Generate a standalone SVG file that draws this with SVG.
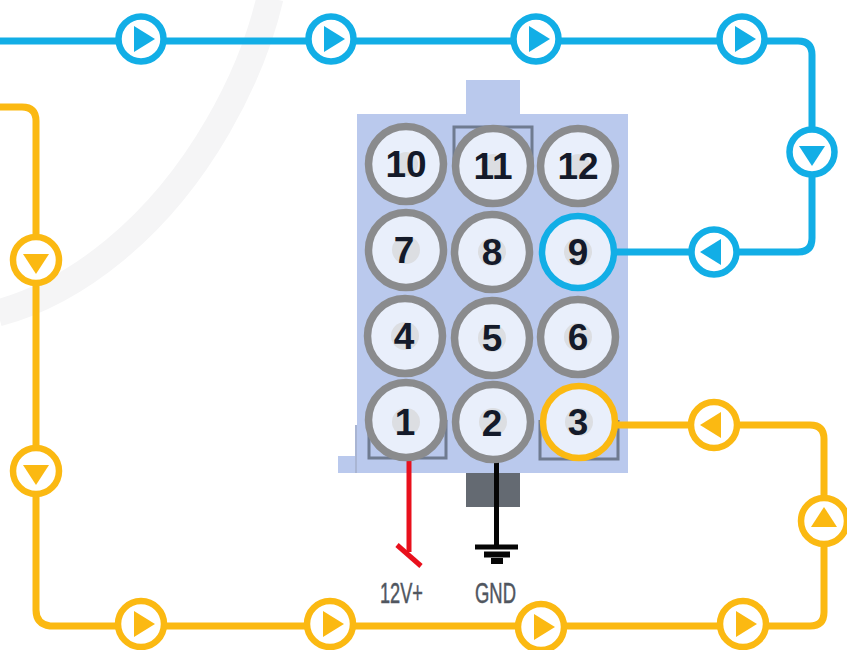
<svg xmlns="http://www.w3.org/2000/svg" width="847" height="650" viewBox="0 0 847 650">
  <style>
    .wire{fill:none;stroke-width:7;stroke-linejoin:round}
    .blue{stroke:#12aee6}
    .yellow{stroke:#fbb912}
    .mk{fill:#fff;stroke-width:6.5}
    .tb{fill:#12aee6}
    .ty{fill:#fbb912}
    .pin{fill:#e9effb;stroke:#8a8b8d;stroke-width:7.5}
    .pin.b{stroke:#12aee6;stroke-width:6.5}
    .pin.y{stroke:#fbb912;stroke-width:6.5}
    .dot{fill:#dcdee2}
    .num{font-family:"Liberation Sans",Arial,sans-serif;font-weight:700;font-size:37px;fill:#141a2a;text-anchor:middle}
    .lbl{font-family:"Liberation Sans",Arial,sans-serif;font-size:29px;fill:#50565f;stroke:#50565f;stroke-width:.5}
    .clip{fill:none;stroke:#6f7b90;stroke-width:3}
  </style>
  <defs>
    <g id="mk-r"><polygon points="-7,-13 14,0 -7,13"/></g>
    <g id="mk-d"><polygon points="-13,-6 13,-6 0,14"/></g>
    <g id="mk-l"><polygon points="7,-13 -14,0 7,13"/></g>
    <g id="mk-u"><polygon points="-13,6 13,6 0,-14"/></g>
  </defs>
  <rect width="847" height="650" fill="#fff"/>
  <path d="M270,-2 C252,75 200,180 115,250 C75,283 35,303 -2,313" fill="none" stroke="#f5f5f6" stroke-width="27"/>

  <g id="connector-body">
    <rect x="466" y="80" width="54" height="34" fill="#bac9ed"/>
    <rect x="357" y="114" width="271" height="359" fill="#bac9ed"/>
    <rect x="338" y="456" width="17" height="17" fill="#bac9ed"/>
    <rect x="355" y="425" width="2" height="48" fill="#a9b5d3"/>
    <rect x="466" y="473" width="54" height="34" fill="#646a72"/>
    <path class="clip" d="M454,166 V127 H532 V166"/>
    <path class="clip" d="M369,420 V458 H446 V420"/>
    <path class="clip" d="M540,420 V459 H618 V420"/>
  </g>

  <g id="connectors">
    <path class="wire blue" d="M0,41 H798 Q812,41 812,55 V238 Q812,252 798,252 H600"/>
    <path class="wire yellow" d="M0,107 H22 Q36,107 36,121 V610 Q36,624 50,626 H810 Q824,626 824,612 V439 Q824,425 810,425 H600"/>
    <path d="M409,458 V552" fill="none" stroke="#e8101c" stroke-width="5"/>
    <path d="M397,545 L421,566" fill="none" stroke="#e8101c" stroke-width="5"/>
    <path d="M496.500,460 V546" fill="none" stroke="#050505" stroke-width="5"/>
    <path d="M475,547 H518" fill="none" stroke="#050505" stroke-width="5"/>
    <path d="M484,554.500 H510" fill="none" stroke="#050505" stroke-width="6"/>
    <path d="M491,561 H503" fill="none" stroke="#050505" stroke-width="6"/>
  </g>

  <g id="pin-10"><circle class="pin" cx="406" cy="164" r="37.500"/><circle class="dot" cx="406" cy="164" r="12"/><text class="num" x="406" y="177">10</text></g>
  <g id="pin-11"><circle class="pin" cx="493" cy="166" r="37.500"/><circle class="dot" cx="493" cy="166" r="12"/><text class="num" x="493" y="179">11</text></g>
  <g id="pin-12"><circle class="pin" cx="578" cy="166" r="37.500"/><circle class="dot" cx="578" cy="166" r="12"/><text class="num" x="578" y="179">12</text></g>
  <g id="pin-7"><circle class="pin" cx="406" cy="250" r="37.500"/><circle class="dot" cx="406" cy="250" r="14"/><text class="num" x="404" y="263">7</text></g>
  <g id="pin-8"><circle class="pin" cx="492" cy="252" r="37.500"/><circle class="dot" cx="492" cy="252" r="14"/><text class="num" x="492" y="265">8</text></g>
  <g id="pin-9"><circle class="pin b" cx="578" cy="252" r="36"/><circle class="dot" cx="578" cy="252" r="14"/><text class="num" x="578" y="265">9</text></g>
  <g id="pin-4"><circle class="pin" cx="405" cy="336" r="37.500"/><circle class="dot" cx="405" cy="336" r="14"/><text class="num" x="404" y="349">4</text></g>
  <g id="pin-5"><circle class="pin" cx="492" cy="338" r="37.500"/><circle class="dot" cx="492" cy="338" r="14"/><text class="num" x="492" y="351">5</text></g>
  <g id="pin-6"><circle class="pin" cx="578" cy="337" r="37.500"/><circle class="dot" cx="578" cy="337" r="14"/><text class="num" x="578" y="350">6</text></g>
  <g id="pin-1"><circle class="pin" cx="406" cy="420" r="37.500"/><circle class="dot" cx="406" cy="422" r="14"/><text class="num" x="405" y="435">1</text></g>
  <g id="pin-2"><circle class="pin" cx="493" cy="422" r="37.500"/><circle class="dot" cx="493" cy="422" r="14"/><text class="num" x="492" y="436">2</text></g>
  <g id="pin-3"><circle class="pin y" cx="579" cy="422" r="36"/><circle class="dot" cx="579" cy="422" r="14"/><text class="num" x="578" y="435">3</text></g>

  <g id="flow-b1"><circle class="mk blue" cx="141" cy="39" r="22.500"/><use class="tb" href="#mk-r" x="141" y="39"/></g>
  <g id="flow-b2"><circle class="mk blue" cx="331" cy="39" r="22.500"/><use class="tb" href="#mk-r" x="331" y="39"/></g>
  <g id="flow-b3"><circle class="mk blue" cx="536" cy="39" r="22.500"/><use class="tb" href="#mk-r" x="536" y="39"/></g>
  <g id="flow-b4"><circle class="mk blue" cx="742" cy="39" r="22.500"/><use class="tb" href="#mk-r" x="742" y="39"/></g>
  <g id="flow-b5"><circle class="mk blue" cx="812" cy="152" r="22.500"/><use class="tb" href="#mk-d" x="812" y="152"/></g>
  <g id="flow-b6"><circle class="mk blue" cx="714" cy="252" r="22.500"/><use class="tb" href="#mk-l" x="714" y="252"/></g>

  <g id="flow-y1"><circle class="mk yellow" cx="36" cy="260" r="23"/><use class="ty" href="#mk-d" x="36" y="260"/></g>
  <g id="flow-y2"><circle class="mk yellow" cx="36" cy="471" r="23"/><use class="ty" href="#mk-d" x="36" y="471"/></g>
  <g id="flow-y3"><circle class="mk yellow" cx="141" cy="624" r="23"/><use class="ty" href="#mk-r" x="141" y="624"/></g>
  <g id="flow-y4"><circle class="mk yellow" cx="330" cy="624" r="23"/><use class="ty" href="#mk-r" x="330" y="624"/></g>
  <g id="flow-y5"><circle class="mk yellow" cx="541" cy="627" r="23"/><use class="ty" href="#mk-r" x="541" y="627"/></g>
  <g id="flow-y6"><circle class="mk yellow" cx="743" cy="624" r="23"/><use class="ty" href="#mk-r" x="743" y="624"/></g>
  <g id="flow-y7"><circle class="mk yellow" cx="824" cy="521" r="23"/><use class="ty" href="#mk-u" x="824" y="521"/></g>
  <g id="flow-y8"><circle class="mk yellow" cx="714" cy="425" r="23"/><use class="ty" href="#mk-l" x="714" y="425"/></g>

  <g id="label-12v"><text class="lbl" x="380" y="603" textLength="43" lengthAdjust="spacingAndGlyphs">12V+</text></g>
  <g id="label-gnd"><text class="lbl" x="475" y="603" textLength="41" lengthAdjust="spacingAndGlyphs">GND</text></g>
</svg>
